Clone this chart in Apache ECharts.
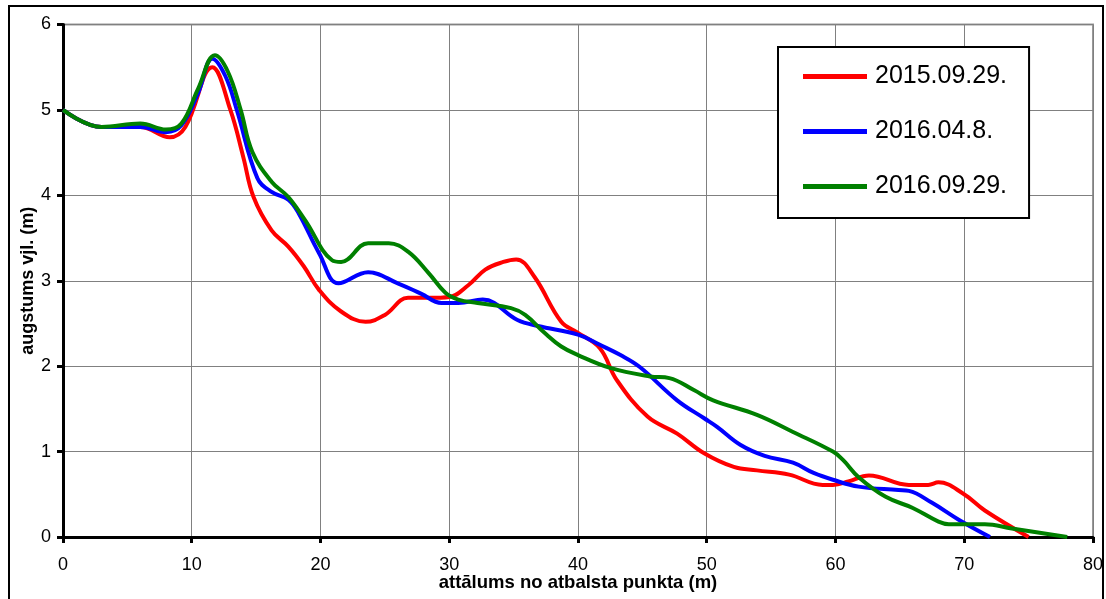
<!DOCTYPE html>
<html>
<head>
<meta charset="utf-8">
<script src="https://cdn.jsdelivr.net/npm/echarts@6/dist/echarts.min.js"></script>
<style>
  html, body { margin: 0; padding: 0; background: #fff; }
  #chart { width: 1106px; height: 599px; }
</style>
</head>
<body>
<div id="chart"></div>
<script>
// series names (legend)
var seriesNames = ['2015.09.29.', '2016.04.8.', '2016.09.29.'];

// 2015.09.29.
var redX = [0, 3, 6, 8.3, 9.5, 11.6, 13, 14, 14.8, 16.2, 17.5, 18.7, 19.9, 21.6, 23.5, 25, 26.8, 28.5, 30, 31.5, 32.8, 34.2, 35.2, 36.6, 38.7, 40, 41.7, 43, 45.4, 47.7, 49.8, 52.1, 53.9, 56.4, 59, 59.8, 61, 62.6, 65.7, 67.2, 68, 69.9, 71.6, 75];
var redY = [5, 4.8, 4.8, 4.68, 4.8, 5.5, 5.0, 4.45, 3.98, 3.59, 3.4, 3.17, 2.89, 2.64, 2.52, 2.6, 2.8, 2.8, 2.81, 2.95, 3.13, 3.22, 3.25, 3.05, 2.52, 2.39, 2.21, 1.84, 1.41, 1.21, 0.98, 0.82, 0.78, 0.73, 0.61, 0.61, 0.65, 0.72, 0.61, 0.61, 0.64, 0.51, 0.31, 0];

// 2016.04.8.
var blueX = [0, 3, 6, 8, 9.2, 10.5, 11.6, 12.6, 13.5, 15.1, 16.2, 17.5, 18.3, 19.9, 21.4, 23.7, 26, 27.8, 29.4, 30.7, 32.6, 35.3, 36.9, 40, 41.7, 43.3, 44.8, 47.7, 49.8, 50.8, 52.6, 54.5, 56.7, 58.3, 59.8, 61.8, 64.9, 65.7, 67.5, 69.6, 72];
var blueY = [5, 4.8, 4.8, 4.74, 4.82, 5.2, 5.6, 5.4, 5.0, 4.2, 4.04, 3.95, 3.79, 3.32, 2.97, 3.1, 2.97, 2.85, 2.74, 2.74, 2.78, 2.54, 2.47, 2.37, 2.25, 2.13, 1.99, 1.6, 1.39, 1.29, 1.08, 0.95, 0.87, 0.75, 0.67, 0.59, 0.55, 0.54, 0.4, 0.2, 0];

// 2016.09.29.
var greenX = [0, 3, 6, 8, 9.2, 10.5, 11.8, 12.8, 13.8, 14.7, 16.2, 17.5, 18.8, 20.9, 21.6, 23.7, 25.3, 26.8, 28.4, 29.7, 30.7, 32.2, 34.8, 35.9, 37.4, 38.7, 40, 42.5, 45.6, 47.1, 49, 50.5, 53.9, 56.7, 59.8, 60.6, 61.8, 63.9, 66, 68, 68.8, 71.6, 73.7, 78];
var greenY = [5, 4.8, 4.84, 4.77, 4.84, 5.25, 5.64, 5.45, 5.0, 4.51, 4.16, 3.98, 3.71, 3.24, 3.22, 3.44, 3.44, 3.34, 3.09, 2.86, 2.78, 2.74, 2.68, 2.6, 2.39, 2.23, 2.13, 1.98, 1.88, 1.86, 1.72, 1.6, 1.43, 1.23, 1.0, 0.9, 0.7, 0.47, 0.34, 0.18, 0.15, 0.15, 0.1, 0];

var colors = ['#ff0000', '#0000ff', '#008000'];

function pairs(xs, ys) {
    var out = [];
    for (var i = 0; i < xs.length; i++) {
        out.push([xs[i], ys[i]]);
    }
    return out;
}

var seriesData = [pairs(redX, redY), pairs(blueX, blueY), pairs(greenX, greenY)];

var series = [];
for (var i = 0; i < seriesNames.length; i++) {
    series.push({
        name: seriesNames[i],
        type: 'line',
        data: seriesData[i],
        smooth: 0.4,
        showSymbol: false,
        symbol: 'none',
        lineStyle: { color: colors[i], width: 4 },
        itemStyle: { color: colors[i] }
    });
}

var font = 'Liberation Sans, Arial, sans-serif';

var myChart = echarts.init(document.getElementById('chart'));
var option = {
    animation: false,
    textStyle: { fontFamily: font },
    graphic: [{
        type: 'rect',
        shape: { x: 9, y: 6, width: 1094, height: 610 },
        style: { fill: 'none', stroke: '#000', lineWidth: 2 },
        z: 0
    }],
    grid: {
        left: 63, top: 24.5, right: 11, bottom: 62,
        show: true,
        borderColor: '#999',
        borderWidth: 2
    },
    legend: {
        data: seriesNames,
        orient: 'vertical',
        left: 778,
        top: 47,
        backgroundColor: '#fff',
        borderColor: '#000',
        borderWidth: 2,
        padding: [17, 22, 19, 25],
        itemGap: 30,
        itemWidth: 64,
        itemHeight: 5,
        icon: 'rect',
        textStyle: { fontFamily: font, fontSize: 25, color: '#000', lineHeight: 25, padding: [0, 0, 0, 3] }
    },
    xAxis: {
        type: 'value',
        min: 0, max: 80, interval: 10,
        name: 'attālums no atbalsta punkta (m)',
        nameLocation: 'middle',
        nameGap: 36,
        nameMoveOverlap: false,
        nameTextStyle: { fontFamily: font, fontSize: 18.5, fontWeight: 'bold', color: '#000' },
        axisLine: { show: true, onZero: false, lineStyle: { color: '#000', width: 3 } },
        axisTick: { show: true, inside: false, length: 6, lineStyle: { color: '#000', width: 3 } },
        axisLabel: { fontFamily: font, fontSize: 18, color: '#000', margin: 19 },
        splitLine: { show: true, lineStyle: { color: '#808080', width: 1 } }
    },
    yAxis: {
        type: 'value',
        min: 0, max: 6, interval: 1,
        name: 'augstums vjl. (m)',
        nameLocation: 'middle',
        nameGap: 26,
        nameMoveOverlap: false,
        nameTextStyle: { fontFamily: font, fontSize: 18, fontWeight: 'bold', color: '#000' },
        axisLine: { show: true, lineStyle: { color: '#000', width: 3 } },
        axisTick: { show: true, inside: false, length: 6, lineStyle: { color: '#000', width: 3 } },
        axisLabel: { fontFamily: font, fontSize: 18, color: '#000', margin: 12 },
        splitLine: { show: true, lineStyle: { color: '#808080', width: 1 } }
    },
    series: series
};
myChart.setOption(option);
</script>
</body>
</html>
